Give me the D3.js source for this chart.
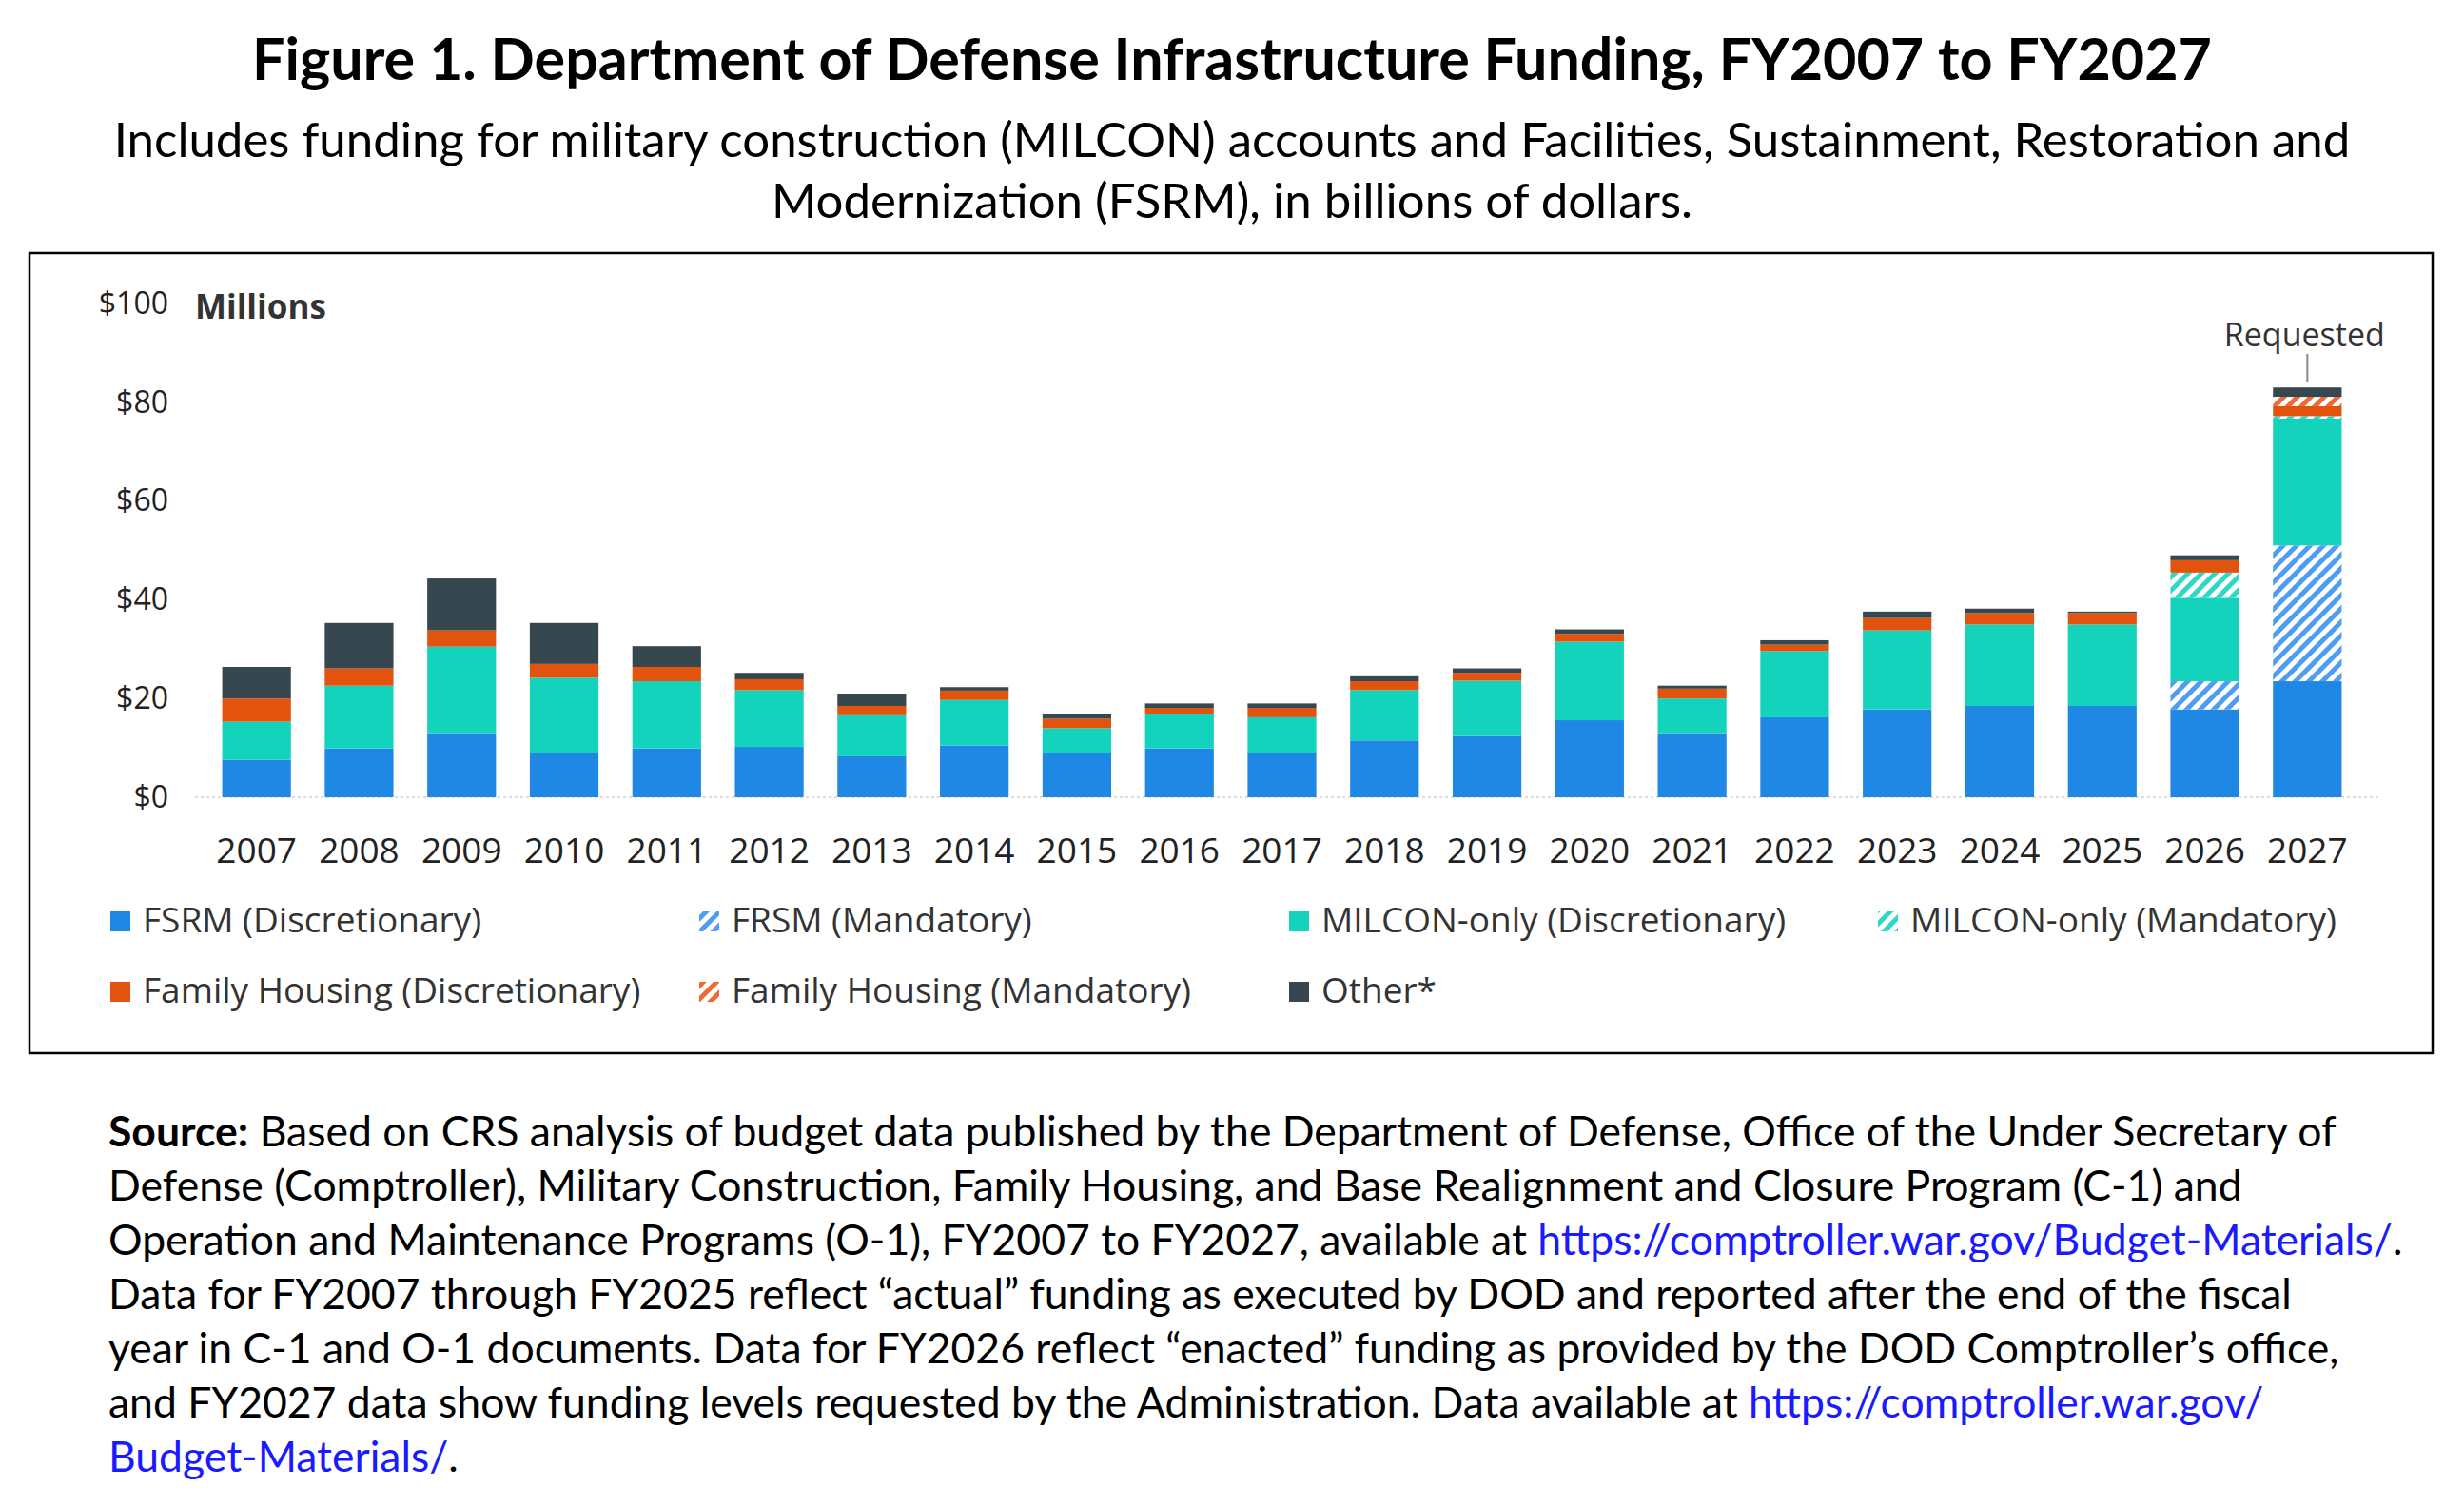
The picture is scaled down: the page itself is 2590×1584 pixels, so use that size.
<!DOCTYPE html>
<html><head><meta charset="utf-8">
<script src="https://cdn.jsdelivr.net/npm/d3@7"></script>
<style>body{margin:0;background:#fff}svg{display:block}</style>
</head><body>
<script>
const years = ["2007","2008","2009","2010","2011","2012","2013","2014","2015","2016","2017","2018","2019","2020","2021","2022","2023","2024","2025","2026","2027"];
const fsrmD    = [7.6,9.9,13,8.9,9.9,10.2,8.3,10.5,8.9,9.9,8.9,11.5,12.4,15.6,13,16.2,17.8,18.5,18.5,17.8,23.5];
const fsrmM    = [0,0,0,0,0,0,0,0,0,0,0,0,0,0,0,0,0,0,0,5.7,27.5];
const milconD  = [7.7,12.7,17.5,15.3,13.6,11.5,8.3,9.2,5.1,7,7.3,10.2,11.2,15.9,7,13.4,16,16.5,16.5,16.9,25.7];
const milconM  = [0,0,0,0,0,0,0,0,0,0,0,0,0,0,0,0,0,0,0,5.1,0.5];
const fhD      = [4.7,3.5,3.3,2.8,2.9,2.2,1.9,1.9,1.9,1.2,1.9,1.8,1.6,1.6,2,1.3,2.5,2.3,2.3,2.5,2];
const fhM      = [0,0,0,0,0,0,0,0,0,0,0,0,0,0,0,0,0,0,0,0,1.9];
const other    = [6.4,9.2,10.5,8.3,4.2,1.3,2.5,0.7,1,0.9,0.9,1,0.9,0.9,0.6,0.9,1.3,0.9,0.3,1,1.9];
const yTicks = [0,20,40,60,80,100];

const series = [
  {key:"fsrmD", name:"FSRM (Discretionary)", vals:fsrmD, color:"#1f88e5", hatch:false},
  {key:"fsrmM", name:"FRSM (Mandatory)", vals:fsrmM, color:"#4f9df0", hatch:true},
  {key:"milconD", name:"MILCON-only (Discretionary)", vals:milconD, color:"#14d3bd", hatch:false},
  {key:"milconM", name:"MILCON-only (Mandatory)", vals:milconM, color:"#2fd8c4", hatch:true},
  {key:"fhD", name:"Family Housing (Discretionary)", vals:fhD, color:"#e2540d", hatch:false},
  {key:"fhM", name:"Family Housing (Mandatory)", vals:fhM, color:"#ee6a33", hatch:true},
  {key:"other", name:"Other*", vals:other, color:"#37474f", hatch:false}
];

const W = 2590, H = 1584;
const svg = d3.select("body").append("svg").attr("width", W).attr("height", H);
const defs = svg.append("defs");
series.filter(s => s.hatch).forEach(s => {
  const p = defs.append("pattern").attr("id","h-"+s.key).attr("patternUnits","userSpaceOnUse")
    .attr("width",10).attr("height",10).attr("patternTransform","rotate(45)");
  p.append("rect").attr("width",10).attr("height",10).attr("fill","#fff");
  p.append("rect").attr("width",5).attr("height",10).attr("fill",s.color);
});
const fillOf = s => s.hatch ? "url(#h-"+s.key+")" : s.color;

const font = "'Lato','Open Sans',sans-serif";

// titles
svg.append("text").attr("x",W/2).attr("y",84).attr("text-anchor","middle")
  .attr("font-family",font).attr("font-weight","bold").attr("font-size",61)
  .text("Figure 1. Department of Defense Infrastructure Funding, FY2007 to FY2027");
svg.append("text").attr("x",W/2).attr("y",165).attr("text-anchor","middle")
  .attr("font-family",font).attr("font-size",51)
  .text("Includes funding for military construction (MILCON) accounts and Facilities, Sustainment, Restoration and");
svg.append("text").attr("x",W/2).attr("y",229).attr("text-anchor","middle")
  .attr("font-family",font).attr("font-size",51)
  .text("Modernization (FSRM), in billions of dollars.");

// frame
svg.append("rect").attr("x",31).attr("y",266).attr("width",2526).attr("height",841)
  .attr("fill","none").attr("stroke","#000").attr("stroke-width",2.5);

const x = d3.scaleBand().domain(years).range([212,2483]).paddingInner(0.33).paddingOuter(0.2);
const y = d3.scaleLinear().domain([0,100]).range([838,319]);

const stack = d3.stack().keys(series.map(s => s.key));
const rows = years.map((yr,i) => { const r = {year:yr}; series.forEach(s => r[s.key] = s.vals[i]); return r; });
const stacked = stack(rows);

const cf = "'Open Sans',sans-serif";
svg.append("line").attr("x1",205).attr("x2",2500).attr("y1",y(0)).attr("y2",y(0))
  .attr("stroke","#ddd").attr("stroke-width",2).attr("stroke-dasharray","3,3");

const g = svg.append("g");
stacked.forEach((layer,li) => {
  g.append("g").selectAll("rect").data(layer).join("rect")
    .attr("x", d => x(d.data.year)).attr("width", x.bandwidth())
    .attr("y", d => y(d[1])).attr("height", d => Math.max(0, y(d[0]) - y(d[1])))
    .attr("fill", fillOf(series[li]));
});

// y axis
const yAxis = d3.axisLeft(y).tickValues(yTicks).tickFormat(d => "$"+d).tickSize(0).tickPadding(0);
const ya = svg.append("g").attr("transform","translate(177,0)").call(yAxis);
ya.select(".domain").remove();
ya.selectAll("text").attr("font-family",cf).attr("font-size",32).attr("fill","#222");
svg.append("text").attr("x",205).attr("y",335).attr("font-family",cf).attr("font-weight","bold")
  .attr("font-size",35).attr("fill","#333").text("Millions");

// x axis
const xAxis = d3.axisBottom(x).tickSize(0).tickPadding(0);
const xa = svg.append("g").attr("transform","translate(0,907)").call(xAxis);
xa.select(".domain").remove();
xa.selectAll("text").attr("font-family",cf).attr("font-size",37).attr("fill","#222").attr("dy",0);

// requested annotation
const lastYr = years[years.length-1];
const cx = x(lastYr) + x.bandwidth()/2;
const lastTop = y(d3.sum(series, s => s.vals[years.length-1]));
svg.append("line").attr("x1",cx).attr("x2",cx).attr("y1",372).attr("y2",lastTop-6).attr("stroke","#888").attr("stroke-width",2);
svg.append("text").attr("x",cx-3).attr("y",364).attr("text-anchor","middle").attr("font-family",cf)
  .attr("font-size",34).attr("fill","#333").text("Requested");

// legend
const legCols = [116,735,1355,1974];
const legRows = [980,1054];
series.forEach((s,i) => {
  const lx = legCols[i%4], ly = legRows[Math.floor(i/4)];
  svg.append("rect").attr("x",lx).attr("y",ly-22).attr("width",21).attr("height",21).attr("fill",fillOf(s));
  svg.append("text").attr("x",lx+34).attr("y",ly).attr("font-family",cf).attr("font-size",37)
    .attr("fill","#333").text(s.name);
});

// source
const srcLines = [
  [["b","Source:"],["t"," Based on CRS analysis of budget data published by the Department of Defense, Office of the Under Secretary of"]],
  [["t","Defense (Comptroller), Military Construction, Family Housing, and Base Realignment and Closure Program (C-1) and"]],
  [["t","Operation and Maintenance Programs (O-1), FY2007 to FY2027, available at "],["l","https://comptroller.war.gov/Budget-Materials/"],["t","."]],
  [["t","Data for FY2007 through FY2025 reflect \u201cactual\u201d funding as executed by DOD and reported after the end of the fiscal"]],
  [["t","year in C-1 and O-1 documents. Data for FY2026 reflect \u201cenacted\u201d funding as provided by the DOD Comptroller\u2019s office,"]],
  [["t","and FY2027 data show funding levels requested by the Administration. Data available at "],["l","https://comptroller.war.gov/"]],
  [["l","Budget-Materials/"],["t","."]]
];
const srcY = [1205,1262,1319,1376,1433,1490,1547];
srcLines.forEach((ln,i) => {
  const t = svg.append("text").attr("x",114).attr("y",srcY[i]).attr("font-family",font).attr("font-size",44.5);
  ln.forEach(([k,s]) => {
    const sp = t.append("tspan").text(s);
    if (k==="b") sp.attr("font-weight","bold");
    if (k==="l") sp.attr("fill","#1a1aff");
  });
});
</script>
</body></html>
